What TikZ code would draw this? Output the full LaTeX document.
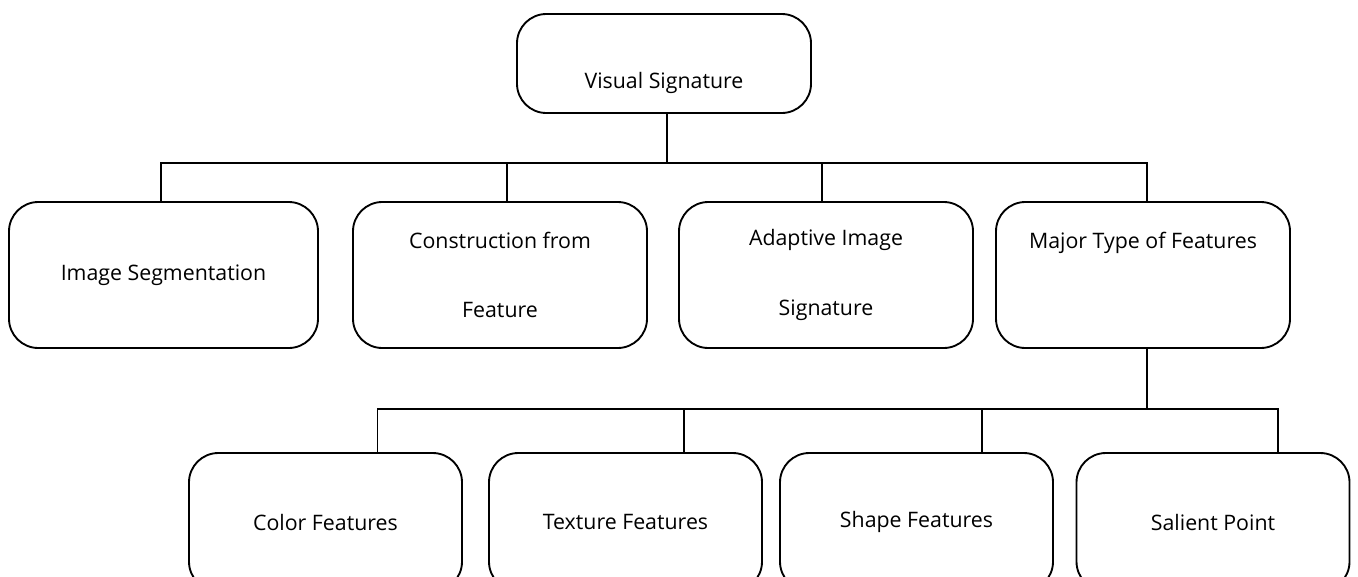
\documentclass[tikz,border=0pt]{standalone}
\usepackage{fontspec}
\setmainfont{Open Sans}
\begin{document}
\begin{tikzpicture}
        [x=0.75pt, y=-0.75pt,
        box/.style={draw, rounded corners=22pt, line width=1.4pt, align=center,
            minimum width=220.5pt, minimum height=109.5pt, font=\fontsize{16}{19}\selectfont},
        small/.style={box, minimum width=204.75pt, minimum height=103.5pt},
        edge/.style={line width=1.4pt, black}]

        \useasboundingbox (0,0) rectangle (1358,576);

        % root
        \node[box, minimum height=74.25pt] (vis) at (664,63.5) {\mbox{}\\[23pt]Visual Signature};

        % second level
        \node[box, minimum width=231.75pt] (seg) at (163.5,275) {Image Segmentation};
        \node[box] (con) at (500,275) {Construction from\\[33pt]Feature};
        \node[box] (ada) at (826,275) {Adaptive Image\\[33pt]Signature};
        \node[box] (maj) at (1143,275) {Major Type of Features\\[33pt]\mbox{}};

        % third level
        \node[small] (col) at (325.5,522) {Color Features};
        \node[small] (tex) at (625.5,522) {Texture Features};
        \node[small] (sha) at (916.5,522) {Shape Features};
        \node[small] (sal) at (1213,522) {Salient Point};

        % bus lines
        \coordinate (bar1) at (0,163);
        \coordinate (bar2) at (0,409);

        % tree edges
        \foreach \c/\dx in {seg/-2,con/5,ada/-3,maj/3}
            \draw[edge] ([xshift=2pt]vis.south) -- ([xshift=2pt]vis.south |- bar1) -| ([xshift=\dx pt]\c.north);
        \foreach \c/\dx in {col/39,tex/44,sha/49,sal/49}
            \draw[edge] ([xshift=3pt]maj.south) -- ([xshift=3pt]maj.south |- bar2) -| ([xshift=\dx pt]\c.north);

\end{tikzpicture}
\end{document}
